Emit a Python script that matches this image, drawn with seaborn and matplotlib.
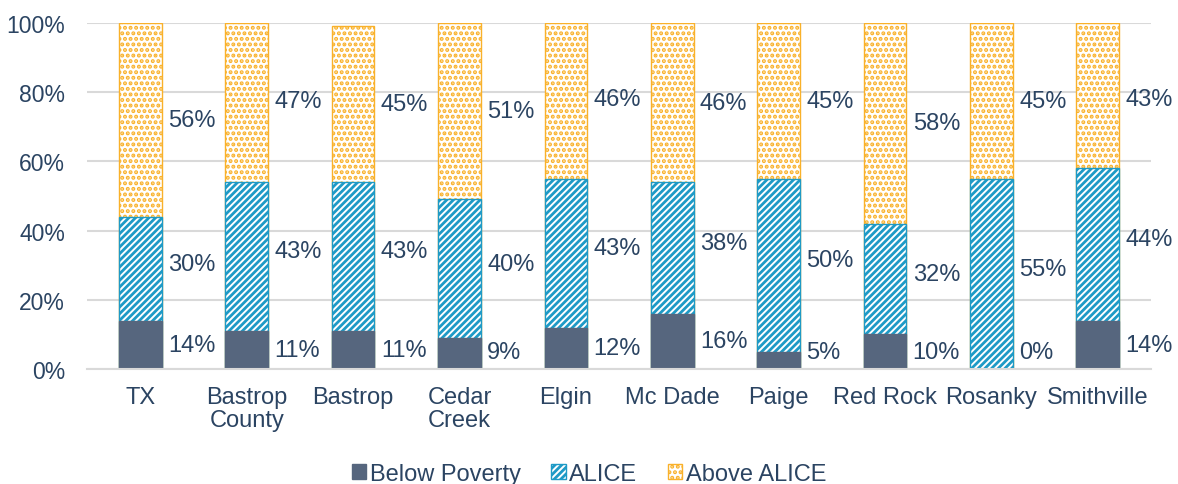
import numpy as np
import pandas as pd
import matplotlib
matplotlib.use("Agg")
import matplotlib.pyplot as plt
import matplotlib.patches as mpatches
import seaborn as sns

# %% data
places = ['TX', 'Bastrop\nCounty', 'Bastrop', 'Cedar\nCreek', 'Elgin',
          'Mc Dade', 'Paige', 'Red Rock', 'Rosanky', 'Smithville']
below_poverty = [14, 11, 11, 9, 12, 16, 5, 10, 0, 14]
alice = [30, 43, 43, 40, 43, 38, 50, 32, 55, 44]
above_alice = [56, 47, 45, 51, 46, 46, 45, 58, 45, 43]

# %% styling
sns.set_style('white')
plt.rcParams['font.family'] = ['Liberation Sans', 'DejaVu Sans']
plt.rcParams['hatch.linewidth'] = 2.0

txt_col = '#2B4462'
pov_col = '#56667E'
alice_col = '#1E9AC6'
above_col = '#F9B12A'
fs = 17

df = pd.DataFrame({'place': places, 'below': below_poverty,
                   'alice': alice, 'above': above_alice})
df['cum1'] = df['below']
df['cum2'] = df['below'] + df['alice']
df['cum3'] = (df['cum2'] + df['above']).clip(upper=100)

fig = plt.figure(figsize=(11.78, 4.85), dpi=100)
ax = fig.add_axes([0.074, 0.237, 0.903, 0.7135])

bw = 0.4
# draw tallest first, then cover with lower layers
sns.barplot(data=df, x='place', y='cum3', color='white', width=bw, ax=ax,
            hatch='...', edgecolor=above_col, linewidth=1.0, saturation=1)
sns.barplot(data=df, x='place', y='cum2', color='white', width=bw, ax=ax,
            hatch='/////', edgecolor=alice_col, linewidth=1.0, saturation=1)
sns.barplot(data=df, x='place', y='cum1', color=pov_col, width=bw, ax=ax,
            edgecolor=pov_col, linewidth=1.0, saturation=1)

# labels to the right of each bar
for i, row in df.iterrows():
    xl = i + bw / 2 + 0.06
    y1 = max(row['below'] / 2, 5)
    y2 = row['cum1'] + row['alice'] / 2 + 1.5
    y3 = min(row['cum2'] + row['above'] / 2, 78)
    for y, v in [(y1, row['below']), (y2, row['alice']), (y3, row['above'])]:
        ax.text(xl, y, f'{v}%', ha='left', va='center', fontsize=fs, color=txt_col)

ax.set_ylim(0, 100)
ax.set_xlim(-0.5, len(places) - 0.5)
ax.set_yticks(range(0, 101, 20))
ax.set_yticklabels([f'{t}%' for t in range(0, 101, 20)])
ax.yaxis.grid(True, color='#D9D9D9', linewidth=1.5)
ax.set_axisbelow(True)
for s in ['top', 'right', 'left']:
    ax.spines[s].set_visible(False)
ax.spines['bottom'].set_color('#D9D9D9')
ax.spines['bottom'].set_linewidth(1.5)
ax.tick_params(axis='x', length=0, labelsize=fs, labelcolor=txt_col, pad=12)
ax.tick_params(axis='y', length=0, labelsize=16.5, labelcolor=txt_col, pad=16)
for t in ax.get_xticklabels():
    t.set_linespacing(1.1)
ax.set_xlabel('')
ax.set_ylabel('')

handles = [
    mpatches.Patch(facecolor=pov_col, edgecolor=pov_col, label='Below Poverty'),
    mpatches.Patch(facecolor='white', edgecolor=alice_col, hatch='/////', label='ALICE'),
    mpatches.Patch(facecolor='white', edgecolor=above_col, hatch='...', label='Above ALICE'),
]
leg = fig.legend(handles=handles, loc='lower center', bbox_to_anchor=(0.5, -0.045),
                 ncol=3, frameon=False, fontsize=fs, handlelength=0.6,
                 handleheight=0.6, handletextpad=0.15, columnspacing=1.3)
for t in leg.get_texts():
    t.set_color(txt_col)

fig.savefig('out.png', dpi=100)
